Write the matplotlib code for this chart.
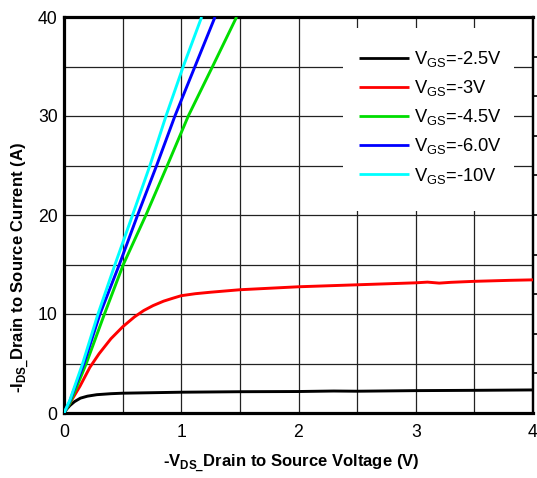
import matplotlib
matplotlib.use("Agg")
import matplotlib.pyplot as plt
from matplotlib import font_manager
from matplotlib.patches import Rectangle

# ---- data ----
vgs_labels = ["-2.5V", "-3V", "-4.5V", "-6.0V", "-10V"]
colors = ["#000000", "#ff0000", "#00dd00", "#0000ff", "#00ffff"]

x_25 = [0, 0.02, 0.05, 0.09, 0.14, 0.2, 0.28, 0.4, 0.5, 0.75, 1.0, 1.5, 2.0, 2.3, 2.5,
        3.0, 3.5, 4.0]
y_25 = [0, 0.35, 0.75, 1.15, 1.5, 1.7, 1.85, 1.95, 2.0, 2.05, 2.1, 2.15, 2.17, 2.22,
        2.2, 2.26, 2.29, 2.33]

x_3 = [0, 0.03, 0.07, 0.136, 0.22, 0.3, 0.4, 0.5, 0.6, 0.68, 0.76, 0.85, 0.93, 1.0,
       1.12, 1.25, 1.5, 2.0, 2.5, 3.0, 3.1, 3.2, 3.3, 3.5, 3.8, 4.0]
y_3 = [0, 0.6, 1.4, 2.7, 4.6, 6.0, 7.5, 8.7, 9.7, 10.35, 10.85, 11.3, 11.6, 11.85,
       12.05, 12.2, 12.45, 12.75, 12.95, 13.15, 13.22, 13.12, 13.2, 13.3, 13.4, 13.45]

x_45 = [0, 0.05, 0.1, 0.19, 0.345, 0.506, 0.699, 0.881, 1.060, 1.267, 1.472]
y_45 = [0, 1.0, 2.4, 5, 10, 15, 20, 25, 30, 35, 40]

x_6 = [0, 0.05, 0.1, 0.17, 0.307, 0.472, 0.628, 0.790, 0.946, 1.117, 1.288]
y_6 = [0, 1.2, 2.8, 5, 10, 15, 20, 25, 30, 35, 40]

x_10 = [0, 0.05, 0.1, 0.159, 0.29, 0.435, 0.585, 0.733, 0.870, 1.017, 1.174]
y_10 = [0, 1.3, 3.0, 5, 10, 15, 20, 25, 30, 35, 40]

series_x = [x_25, x_3, x_45, x_6, x_10]
series_y = [y_25, y_3, y_45, y_6, y_10]

x_ticks = [0, 1, 2, 3, 4]
y_ticks = [0, 10, 20, 30, 40]

# ---- fonts ----
names = {f.name for f in font_manager.fontManager.ttflist}
narrow = "Liberation Sans Narrow" if "Liberation Sans Narrow" in names else None
plt.rcParams["font.family"] = ["Liberation Sans", "DejaVu Sans"]
plt.rcParams["mathtext.fontset"] = "custom"
plt.rcParams["mathtext.rm"] = "Liberation Sans"

if narrow:
    lab_family, lab_size, leg_size = narrow, 14.8, 16
else:
    lab_family, lab_size, leg_size = "Liberation Sans", 12.0, 13.2

fig = plt.figure(figsize=(5.37, 4.78), dpi=100)
ax = fig.add_axes([64 / 537, 65 / 478, 469 / 537, 396 / 478])

for xs, ys, c, lab in zip(series_x, series_y, colors, vgs_labels):
    ax.plot(xs, ys, color=c, lw=2.1, solid_capstyle="butt", solid_joinstyle="round",
            zorder=3, label=r"V$_{\mathregular{GS}}$=" + lab)

ax.set_xlim(0, 4)
ax.set_ylim(0, 40)
ax.set_xticks(x_ticks)
ax.set_yticks(y_ticks)
ax.set_xticks([0.5 * i for i in range(9)], minor=True)
ax.set_yticks([5 * i for i in range(9)], minor=True)
ax.grid(True, which="both", color="#222222", lw=0.9)
ax.set_axisbelow(True)
ax.tick_params(which="both", length=0, labelsize=12.7)
ax.tick_params(axis="x", pad=8)
ax.tick_params(axis="y", pad=4.5)

for s in ["left", "bottom", "top"]:
    ax.spines[s].set_linewidth(2.3)
ax.spines["right"].set_linewidth(1.6)

sec = ax.secondary_yaxis("right")
sec.set_yticks([4 * i for i in range(1, 10)])
sec.tick_params(length=3, width=1.2, labelright=False)
sec.spines["right"].set_linewidth(1.6)

# white legend backdrop
ax.add_patch(Rectangle((0.595, 0.510), 0.364, 0.462, transform=ax.transAxes,
                       facecolor="white", edgecolor="none", zorder=1.5))

leg = ax.legend(loc="upper left", bbox_to_anchor=((359 - 64) / 469, (413 - 49) / 396),
                frameon=False, prop={"family": lab_family, "size": leg_size},
                handlelength=2.7, handletextpad=0.28, labelspacing=0.50,
                borderaxespad=0, borderpad=0)
for line in leg.get_lines():
    line.set_linewidth(2.0)

ax.set_xlabel(r"-V$_{\mathregular{DS\_}}$Drain to Source Voltage (V)",
              fontfamily=lab_family, fontweight="bold", fontsize=lab_size)
ax.xaxis.label.set(va="baseline", ha="center")
ax.xaxis.set_label_coords(0.484, (413 - 468) / 396)

ax.set_ylabel(r"-I$_{\mathregular{DS\_}}$Drain to Source Current (A)",
              fontfamily=lab_family, fontweight="bold", fontsize=lab_size)
ax.yaxis.label.set(va="baseline", ha="center")
ax.yaxis.set_label_coords((25 - 64) / 469, 0.367)

fig.savefig("out.png", dpi=100)
